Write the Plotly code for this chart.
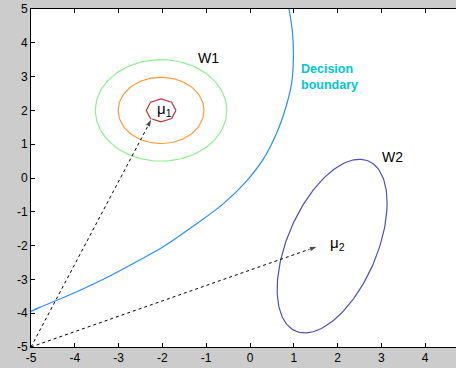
import numpy as np
import plotly.graph_objects as go

# ---- data ----
x_ticks = [-5, -4, -3, -2, -1, 0, 1, 2, 3, 4]
x_tick_labels = ["-5", "-4", "-3", "-2", "-1", "0", "1", "2", "3", "4"]
y_ticks = [-5, -4, -3, -2, -1, 0, 1, 2, 3, 4, 5]
y_tick_labels = ["-5", "-4", "-3", "-2", "-1", "0", "1", "2", "3", "4", "5"]

# class W1: circular contours around mu1
mu1 = [-2.03, 2.0]
w1_radii = [1.5, 0.98, 0.34]
w1_colors = ["#90ee90", "#ff9a40", "#b83c3c"]
w1_npts = [120, 120, 9]

# class W2: one elliptical contour around mu2
mu2 = [1.875, -2.015]
w2_cov = [[1.575, 1.6], [1.6, 6.6]]

# decision boundary
boundary_x = [0.89, 0.97, 0.99, 0.95, 0.82, 0.60, 0.30, -0.10, -0.60, -1.30,
              -2.00, -2.51, -3.20, -3.88, -4.34, -4.79, -5.0]
boundary_y = [5.0, 4.30, 3.50, 2.80, 2.10, 1.30, 0.55, -0.12, -0.75, -1.43,
              -2.05, -2.42, -2.90, -3.32, -3.58, -3.82, -3.95]

# mean vectors from origin corner
origin = [-5, -5]
arrow1_end = [-2.24, 1.76]
arrow2_end = [1.55, -2.02]

fig = go.Figure()

# W1 contours
for r, c, n in zip(w1_radii, w1_colors, w1_npts):
    t = np.linspace(0, 2 * np.pi, n)
    fig.add_trace(go.Scatter(x=mu1[0] + r * np.cos(t), y=mu1[1] + r * np.sin(t),
                             mode="lines", line=dict(color=c, width=1.2),
                             hoverinfo="skip", showlegend=False))

# W2 ellipse
L = np.linalg.cholesky(np.array(w2_cov))
t = np.linspace(0, 2 * np.pi, 200)
pts = L @ np.vstack([np.cos(t), np.sin(t)])
fig.add_trace(go.Scatter(x=mu2[0] + pts[0], y=mu2[1] + pts[1], mode="lines",
                         line=dict(color="#5050b4", width=1.2),
                         hoverinfo="skip", showlegend=False))

# decision boundary
fig.add_trace(go.Scatter(x=boundary_x, y=boundary_y, mode="lines",
                         line=dict(color="#2b8cff", width=1.2, shape="spline",
                                   smoothing=1.0),
                         hoverinfo="skip", showlegend=False))

# dashed arrows
for end in (arrow1_end, arrow2_end):
    fig.add_trace(go.Scatter(x=[origin[0], end[0]], y=[origin[1], end[1]],
                             mode="lines+markers",
                             line=dict(color="black", width=1, dash="3px,3px"),
                             marker=dict(symbol="arrow", angleref="previous",
                                         size=[0, 9], color="black"),
                             hoverinfo="skip", showlegend=False))

font_main = "Liberation Sans, Arial, sans-serif"
annots = [
    dict(x=-0.95, y=3.55, text="W1", font=dict(size=14, color="black")),
    dict(x=3.25, y=0.62, text="W2", font=dict(size=14, color="black")),
    dict(x=1.12, y=2.98, text="<b>Decision<br>boundary</b>", align="left",
         xanchor="left", font=dict(size=12.5, color="#00c8d0")),
    dict(x=-1.95, y=2.02, text="μ<sub>1</sub>", font=dict(size=15, color="black")),
    dict(x=2.0, y=-1.95, text="μ<sub>2</sub>", font=dict(size=15, color="black")),
]
for a in annots:
    a.setdefault("xanchor", "center")
    fig.add_annotation(xref="x", yref="y", showarrow=False, **a)

fig.update_layout(
    width=456, height=368,
    margin=dict(l=31, r=0, t=9, b=21, autoexpand=False),
    paper_bgcolor="#cccccc", plot_bgcolor="white",
    font=dict(family=font_main, size=12, color="black"),
    showlegend=False,
)
fig.update_xaxes(range=[-5, -5 + 425 / 43.8], tickvals=x_ticks, ticktext=x_tick_labels,
                 showgrid=False, zeroline=False, showline=True, linecolor="black",
                 linewidth=1, mirror="ticks", ticks="inside", ticklen=4,
                 tickcolor="black", automargin=False)
fig.update_yaxes(range=[-5, 5], tickvals=y_ticks, ticktext=y_tick_labels,
                 showgrid=False, zeroline=False, showline=True, linecolor="black",
                 linewidth=1, ticks="inside", ticklen=4, tickcolor="black",
                 automargin=False)

fig.write_html("out.html",
               config={"displayModeBar": False},
               post_script="document.body.style.margin='0';"
                           "document.body.style.background='#cccccc';")
